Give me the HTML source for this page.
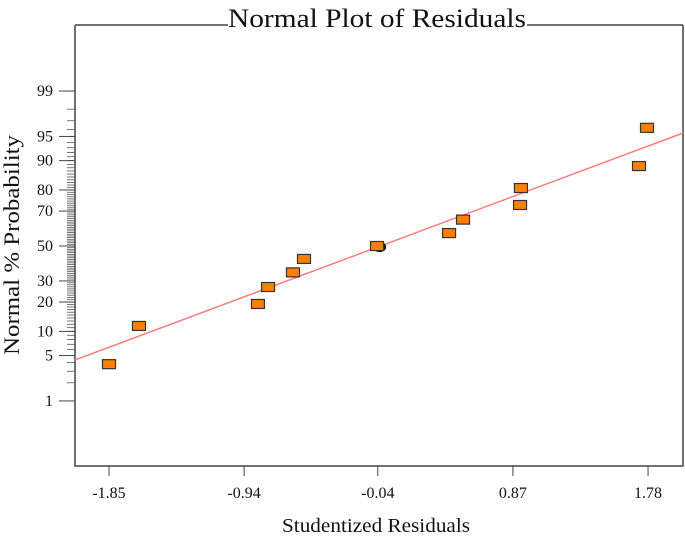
<!DOCTYPE html>
<html><head><meta charset="utf-8"><style>
html,body{margin:0;padding:0;background:#fff;}
svg{display:block;font-family:"Liberation Serif",serif;}
</style></head><body>
<svg id="chart" width="685" height="538" viewBox="0 0 685 538" xmlns="http://www.w3.org/2000/svg">
<rect x="0" y="0" width="685" height="538" fill="#fff"/>
<g id="axes"></g>
<g id="marks"></g>
<text x="377" y="27" text-anchor="middle" font-size="26" textLength="298" lengthAdjust="spacingAndGlyphs" fill="#111">Normal Plot of Residuals</text>
<text transform="translate(19,245) rotate(-90)" text-anchor="middle" font-size="22" textLength="220" lengthAdjust="spacingAndGlyphs" fill="#111">Normal % Probability</text>
<text x="376" y="532" text-anchor="middle" font-size="20" textLength="188" lengthAdjust="spacingAndGlyphs" fill="#111">Studentized Residuals</text>
</svg>
<script>
const residuals = [-1.85, -1.648, -0.847, -0.779, -0.611, -0.537, -0.045, 0.44, 0.534, 0.918, 0.924, 1.719, 1.773];
const probabilities = [3.8, 11.5, 19.2, 26.9, 34.6, 42.3, 50, 57.7, 65.4, 73.1, 80.8, 88.5, 96.2];
const xTicks = [-1.85, -0.94, -0.04, 0.87, 1.78];
const xTickLabels = ["-1.85", "-0.94", "-0.04", "0.87", "1.78"];
const yTicks = [1, 5, 10, 20, 30, 50, 70, 80, 90, 95, 99];
const fitLineX = [-2.079, 2.015];
const fitLineP = [4.35, 95.5];
const highlightIndex = 6;

const NS = "http://www.w3.org/2000/svg";
const L = 75, R = 683, T = 25, B = 466;
function xs(v){ return 109 + (v + 1.85) * 148.5; }
function probit(p){
  const a=[-39.6968302866538,220.946098424521,-275.928510446969,138.357751867269,-30.6647980661472,2.50662827745924];
  const b=[-54.4760987982241,161.585836858041,-155.698979859887,66.8013118877197,-13.2806815528857];
  const c=[-0.00778489400243029,-0.322396458041136,-2.40075827716184,-2.54973253934373,4.37466414146497,2.93816398269878];
  const d=[0.00778469570904146,0.32246712907004,2.445134137143,3.75440866190742];
  const pl=0.02425; let q,r;
  if(p<pl){q=Math.sqrt(-2*Math.log(p));return (((((c[0]*q+c[1])*q+c[2])*q+c[3])*q+c[4])*q+c[5])/((((d[0]*q+d[1])*q+d[2])*q+d[3])*q+1);}
  if(p>1-pl){q=Math.sqrt(-2*Math.log(1-p));return -(((((c[0]*q+c[1])*q+c[2])*q+c[3])*q+c[4])*q+c[5])/((((d[0]*q+d[1])*q+d[2])*q+d[3])*q+1);}
  q=p-0.5;r=q*q;return (((((a[0]*r+a[1])*r+a[2])*r+a[3])*r+a[4])*r+a[5])*q/(((((b[0]*r+b[1])*r+b[2])*r+b[3])*r+b[4])*r+1);
}
function ys(pct){ return 246 - probit(pct/100) * 66.6; }
function mk(tag, attrs, parent){ const e=document.createElementNS(NS,tag); for(const k in attrs) e.setAttribute(k,attrs[k]); parent.appendChild(e); return e; }

const axes = document.getElementById('axes');
const marks = document.getElementById('marks');

const fr = mk('polyline',{points:`${L},${T} ${L},${B} ${R},${B} ${R},${T}`,fill:'none',stroke:'#444','stroke-width':1.5},axes);


const tl = mk('line',{x1:L,y1:T,x2:228,y2:T,stroke:'#444','stroke-width':1.5},axes);


const tr = mk('line',{x1:527,y1:T,x2:R,y2:T,stroke:'#444','stroke-width':1.5},axes);



for(let p=1;p<=99;p++){
  const y=ys(p);
  const t=mk('line',{x1:L-8,y1:y,x2:L,y2:y,stroke:'#555','stroke-width':0.8},axes);
  
  
}
yTicks.forEach(p=>{
  const y=ys(p);
  const t=mk('line',{x1:L-16,y1:y,x2:L,y2:y,stroke:'#444','stroke-width':1},axes);
  
  
  const lb=mk('text',{x:L-22,y:y+5,'text-anchor':'end','font-size':16,fill:'#111'},axes);
  lb.textContent=String(p);
  
  
});
xTicks.forEach((v,i)=>{
  const x=xs(v);
  const t=mk('line',{x1:x,y1:B,x2:x,y2:B+10,stroke:'#444','stroke-width':1},axes);
  
  
  const lb=mk('text',{x:x,y:B+32,'text-anchor':'middle','font-size':16,fill:'#111'},axes);
  lb.textContent=xTickLabels[i];
  
  
});

const fl = mk('line',{x1:xs(fitLineX[0]),y1:ys(fitLineP[0]),x2:xs(fitLineX[1]),y2:ys(fitLineP[1]),stroke:'#ff7b7b','stroke-width':1.5},marks);



const hx=xs(residuals[highlightIndex])+2.5, hy=ys(probabilities[highlightIndex])+1;
const el = mk('ellipse',{cx:hx,cy:hy,rx:6,ry:4.5,fill:'#333',stroke:'#000','stroke-width':1.2},marks);



residuals.forEach((v,i)=>{
  const x=xs(v), y=ys(probabilities[i]);
  const r=mk('rect',{x:x-6.5,y:y-4.5,width:13,height:9,fill:'#ff8000',stroke:'#333','stroke-width':1.2},marks);
  
  
});
</script>
</body></html>
